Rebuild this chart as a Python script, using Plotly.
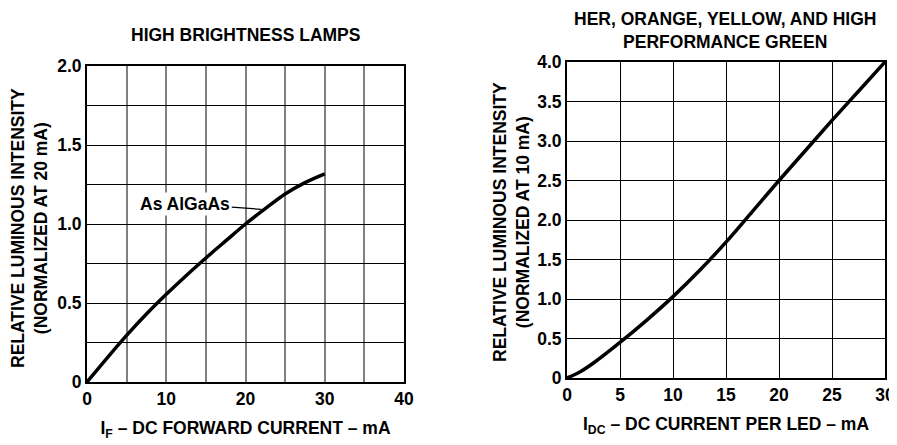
import plotly.graph_objects as go

# left panel: high brightness lamps
left_current = [0, 2.5, 5, 7.5, 10, 12.5, 15, 17.5, 20, 22.5, 25, 27.5, 30]
left_intensity = [0, 0.15, 0.295, 0.43, 0.555, 0.673, 0.785, 0.893, 1.0, 1.097, 1.19, 1.262, 1.318]
left_xticks = [0, 5, 10, 15, 20, 25, 30, 35, 40]
left_xtext = ["0", "", "10", "", "20", "", "30", "", "40"]
left_yticks = [0, 0.25, 0.5, 0.75, 1.0, 1.25, 1.5, 1.75, 2.0]
left_ytext = ["0", "", "0.5", "", "1.0", "", "1.5", "", "2.0"]

# right panel: HER, orange, yellow, high performance green
right_current = [0, 1.25, 2.5, 5, 7.5, 10, 12.5, 15, 17.5, 20, 22.5, 25, 27.5, 30]
right_intensity = [0, 0.08, 0.19, 0.45, 0.73, 1.03, 1.36, 1.72, 2.11, 2.50, 2.88, 3.26, 3.63, 4.0]
right_xticks = [0, 5, 10, 15, 20, 25, 30]
right_xtext = ["0", "5", "10", "15", "20", "25", "30"]
right_yticks = [0, 0.5, 1.0, 1.5, 2.0, 2.5, 3.0, 3.5, 4.0]
right_ytext = ["0", "0.5", "1.0", "1.5", "2.0", "2.5", "3.0", "3.5", "4.0"]

# the page body has an 8px margin, so the figure is drawn a bit smaller
OFF = 8
W, H = 897 - OFF, 445 - OFF


def px(x):
    return (x - OFF) / W


def py(y):
    return 1 - (y - OFF) / H


FONT = dict(family="Liberation Sans, Arial, sans-serif", color="black", size=17.5, weight="bold")

fig = go.Figure()
fig.add_trace(go.Scatter(x=left_current, y=left_intensity, mode="lines",
                         line=dict(color="black", width=3.5, shape="spline", smoothing=1.0),
                         xaxis="x", yaxis="y", showlegend=False, hoverinfo="skip"))
fig.add_trace(go.Scatter(x=right_current, y=right_intensity, mode="lines",
                         line=dict(color="black", width=3.5, shape="spline", smoothing=1.0),
                         xaxis="x2", yaxis="y2", showlegend=False, hoverinfo="skip"))

axis_common = dict(showline=True, linecolor="black", linewidth=2, mirror=True, ticks="", zeroline=False,
                   tickfont=FONT, title_font=FONT, automargin=False)

fig.update_layout(
    width=W, height=H,
    margin=dict(l=0, r=0, t=0, b=0),
    paper_bgcolor="white", plot_bgcolor="white",
    font=FONT,
    xaxis=dict(axis_common, domain=[px(87), px(404)], range=[0, 40], tickvals=left_xticks, ticktext=left_xtext,
               gridcolor="#808080", gridwidth=1.5, anchor="y",
               title=dict(text="I<sub>F</sub> – DC FORWARD CURRENT – mA", standoff=14)),
    yaxis=dict(axis_common, domain=[py(382), py(66)], range=[0, 2], tickvals=left_yticks, ticktext=left_ytext,
               gridcolor="black", gridwidth=1, anchor="x"),
    xaxis2=dict(axis_common, domain=[px(567), px(885)], range=[0, 30], tickvals=right_xticks, ticktext=right_xtext,
                gridcolor="black", gridwidth=1, anchor="y2",
                title=dict(text="I<sub>DC</sub> – DC CURRENT PER LED – mA", standoff=14)),
    yaxis2=dict(axis_common, domain=[py(378), py(62)], range=[0, 4], tickvals=right_yticks, ticktext=right_ytext,
                gridcolor="black", gridwidth=1, anchor="x2"),
)

# panel titles
fig.add_annotation(xref="paper", yref="paper", x=px(245), y=py(35), text="HIGH BRIGHTNESS LAMPS",
                   showarrow=False, font=FONT, xanchor="center", yanchor="middle")
fig.add_annotation(xref="paper", yref="paper", x=px(725), y=py(8), borderpad=0,
                   text="HER, ORANGE, YELLOW, AND HIGH<br>PERFORMANCE GREEN",
                   showarrow=False, font=FONT, xanchor="center", yanchor="top")

# y-axis titles (two lines, rotated)
fig.add_annotation(xref="paper", yref="paper", x=px(29), y=py(228), textangle=-90,
                   text="RELATIVE LUMINOUS INTENSITY<br>(NORMALIZED AT 20 mA)",
                   showarrow=False, font=FONT, xanchor="center", yanchor="middle")
fig.add_annotation(xref="paper", yref="paper", x=px(511), y=py(222), textangle=-90,
                   text="RELATIVE LUMINOUS INTENSITY<br>(NORMALIZED AT 10 mA)",
                   showarrow=False, font=FONT, xanchor="center", yanchor="middle")

# curve label with leader line
fig.add_annotation(xref="x", yref="y", x=22.0, y=1.093, axref="x", ayref="y", ax=12.4, ay=1.127,
                   text="As AlGaAs", font=FONT, showarrow=True, arrowhead=0, arrowwidth=1.2,
                   arrowcolor="black", bgcolor="white")

fig.write_html("out.html")
